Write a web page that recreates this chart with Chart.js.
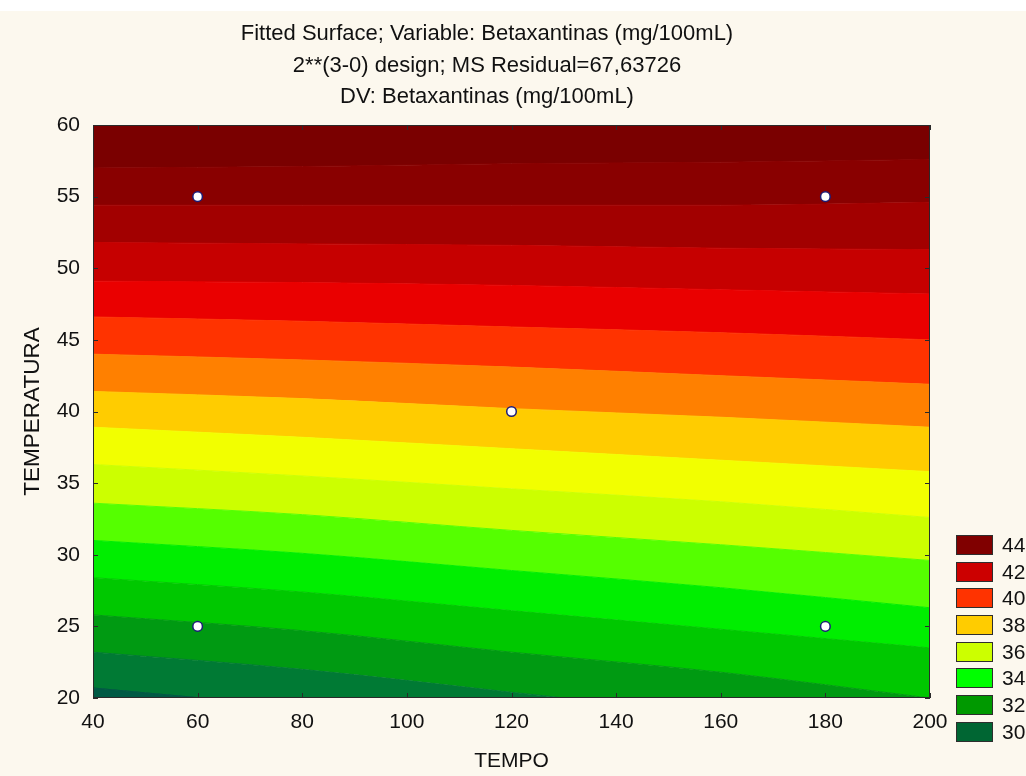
<!DOCTYPE html>
<html>
<head>
<meta charset="utf-8">
<title>Fitted Surface - Betaxantinas</title>
<script src="https://cdn.jsdelivr.net/npm/chart.js@4.4.1/dist/chart.umd.min.js"></script>
<style>
  body { margin: 0; background: #ffffff; }
  #wrap { position: relative; width: 1026px; height: 776px; overflow: hidden; }
  #panel { position: absolute; left: 0; top: 11px; right: 0; bottom: 0; background: #fcf8ee; }
  #surfaceChart { position: absolute; left: 0; top: 0; }
  .chart-title {
    position: absolute; left: 0; top: 17px; width: 974px;
    text-align: center; font: 22px 'Liberation Sans', Arial, sans-serif;
    line-height: 31.5px; color: #111;
  }
  .legend { position: absolute; left: 956px; top: 535px; font: 21px 'Liberation Sans', Arial, sans-serif; color: #111; }
  .legend-item { position: relative; height: 26.7px; }
  .legend-box { position: absolute; left: 0; top: 0; width: 35px; height: 18px; border: 1px solid #2e2e2e; }
  .legend-label { position: absolute; left: 46px; top: -2px; line-height: 24px; }
</style>
</head>
<body>
<div id="wrap">
  <div id="panel"></div>
  <canvas id="surfaceChart" width="1026" height="776"></canvas>
  <div class="chart-title">
    <div>Fitted Surface; Variable: Betaxantinas (mg/100mL)</div>
    <div>2**(3-0) design; MS Residual=67,63726</div>
    <div>DV: Betaxantinas (mg/100mL)</div>
  </div>
  <div class="legend" id="legend"></div>
</div>
<script>
// contour lines of the fitted surface, top to bottom (Betaxantinas level)
const contourLevels = [44, 43, 42, 41, 40, 39, 38, 37, 36, 35, 34, 33, 32, 31, 30];

// TEMPERATURA where each contour line crosses a given TEMPO
const tempoStations = [40, 80, 120, 160, 200];
const tempAt40  = [57.0, 54.4, 51.8, 49.1, 46.6, 44.0, 41.4, 38.9, 36.3, 33.6, 31.0, 28.4, 25.8, 23.2, 20.7];
const tempAt80  = [57.1, 54.4, 51.7, 49.0, 46.3, 43.6, 40.9, 38.2, 35.5, 32.8, 30.1, 27.4, 24.7, 22.0, 19.3];
const tempAt120 = [57.3, 54.4, 51.6, 48.8, 45.9, 43.1, 40.2, 37.4, 34.6, 31.7, 28.9, 26.1, 23.2, 20.4, 17.5];
const tempAt160 = [57.4, 54.4, 51.4, 48.5, 45.5, 42.5, 39.6, 36.6, 33.7, 30.7, 27.7, 24.8, 21.8, 18.8, 15.8];
const tempAt200 = [57.6, 54.6, 51.3, 48.2, 45.0, 41.9, 38.9, 35.8, 32.6, 29.6, 26.3, 23.5, 20.0, 16.9, 13.7];

// one colour per band, from above the top contour down to below the last one
const bandColors = [
  '#7a0000', '#890000', '#a20000', '#c60000', '#ea0000', '#ff3300', '#ff8000', '#ffcc00',
  '#f2ff00', '#ccff00', '#55ff00', '#00ee00', '#00c800', '#009a12', '#007a34', '#005a44'
];

// design points (TEMPO, TEMPERATURA)
const designTempo = [60, 180, 120, 60, 180];
const designTemp  = [55, 55, 40, 25, 25];

// legend
const legendLevels = [44, 42, 40, 38, 36, 34, 32, 30];
const legendColors = ['#800000', '#cc0000', '#ff3300', '#ffcc00', '#ccff00', '#00ff00', '#009900', '#006633'];

const xTicks = [40, 60, 80, 100, 120, 140, 160, 180, 200];
const yTicks = [20, 25, 30, 35, 40, 45, 50, 55, 60];

const FONT = "'Liberation Sans', Arial, sans-serif";

const stationTemps = [tempAt40, tempAt80, tempAt120, tempAt160, tempAt200];
const contourPoints = contourLevels.map((level, i) =>
  tempoStations.map((tempo, s) => ({ x: tempo, y: stationTemps[s][i] }))
);

const bandDatasets = contourPoints.map((pts, i) => ({
  type: 'line',
  label: 'z = ' + contourLevels[i],
  data: pts,
  fill: i === 0 ? 'end' : '-1',
  backgroundColor: bandColors[i],
  borderColor: bandColors[i + 1],
  borderWidth: 1,
  pointRadius: 0,
  cubicInterpolationMode: 'monotone',
  clip: 0,
  order: 1,
}));
// last band, below the lowest contour
bandDatasets.push({
  type: 'line',
  label: 'z < ' + contourLevels[contourLevels.length - 1],
  data: contourPoints[contourPoints.length - 1],
  fill: 'start',
  backgroundColor: bandColors[bandColors.length - 1],
  borderColor: bandColors[bandColors.length - 1],
  borderWidth: 1,
  pointRadius: 0,
  cubicInterpolationMode: 'monotone',
  clip: 0,
  order: 1,
});

const pointsDataset = {
  type: 'scatter',
  label: 'Design points',
  data: designTempo.map((t, i) => ({ x: t, y: designTemp[i] })),
  backgroundColor: '#ffffff',
  borderColor: '#1c1c78',
  borderWidth: 1.5,
  pointRadius: 4.8,
  clip: false,
  order: 0,
};

// frame round the plot with small inward tick marks on every side
const frameTicks = {
  id: 'frameTicks',
  afterDatasetsDraw(chart) {
    const { ctx, chartArea: a, scales: { x, y } } = chart;
    ctx.save();
    ctx.strokeStyle = '#2a2a2a';
    ctx.lineWidth = 1;
    ctx.strokeRect(a.left + 0.5, a.top + 0.5, a.width - 1, a.height - 1);
    ctx.beginPath();
    x.ticks.forEach(t => {
      const px = Math.round(x.getPixelForValue(t.value)) + 0.5;
      ctx.moveTo(px, a.bottom); ctx.lineTo(px, a.bottom - 5);
      ctx.moveTo(px, a.top); ctx.lineTo(px, a.top + 5);
    });
    y.ticks.forEach(t => {
      const py = Math.round(y.getPixelForValue(t.value)) + 0.5;
      ctx.moveTo(a.left, py); ctx.lineTo(a.left + 5, py);
      ctx.moveTo(a.right, py); ctx.lineTo(a.right - 5, py);
    });
    ctx.stroke();
    ctx.restore();
  }
};

const ctx = document.getElementById('surfaceChart').getContext('2d');
new Chart(ctx, {
  data: { datasets: [...bandDatasets, pointsDataset] },
  options: {
    responsive: false,
    animation: false,
    layout: { padding: { top: 125, right: 96, left: 0, bottom: 0 } },
    scales: {
      x: {
        type: 'linear',
        min: 40,
        max: 200,
        afterBuildTicks: scale => { scale.ticks = xTicks.map(v => ({ value: v })); },
        afterFit: scale => { scale.height = 78; },
        grid: { display: false, drawTicks: false },
        border: { display: false },
        ticks: { color: '#111', padding: 12, font: { family: FONT, size: 21 } },
        title: { display: true, text: 'TEMPO', color: '#111', padding: { top: 4, bottom: 2 }, font: { family: FONT, size: 21 } },
      },
      y: {
        type: 'linear',
        min: 20,
        max: 60,
        afterBuildTicks: scale => { scale.ticks = yTicks.map(v => ({ value: v })); },
        afterFit: scale => { scale.width = 93; },
        grid: { display: false, drawTicks: false },
        border: { display: false },
        ticks: { color: '#111', padding: 13, font: { family: FONT, size: 21 } },
        title: { display: true, text: 'TEMPERATURA', color: '#111', padding: { top: 19, bottom: 4 }, font: { family: FONT, size: 22.5 } },
      },
    },
    plugins: {
      legend: { display: false },
      tooltip: { enabled: false },
      filler: { drawTime: 'beforeDatasetsDraw' },
    },
  },
  plugins: [frameTicks],
});

// legend boxes to the right of the plot
const legendEl = document.getElementById('legend');
legendLevels.forEach((level, i) => {
  const item = document.createElement('div');
  item.className = 'legend-item';
  item.innerHTML = '<div class="legend-box" style="background:' + legendColors[i] + '"></div>' +
                   '<div class="legend-label">' + level + '</div>';
  legendEl.appendChild(item);
});
</script>
</body>
</html>
